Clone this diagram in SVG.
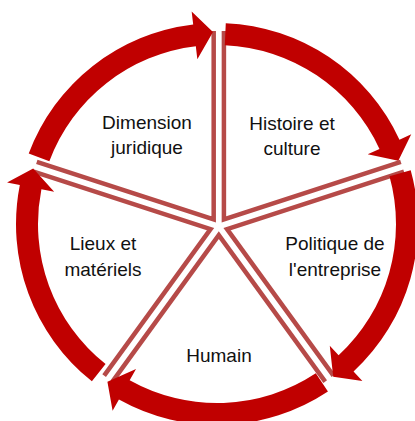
<svg xmlns="http://www.w3.org/2000/svg" width="415" height="421" viewBox="0 0 415 421">
<style>
.w{fill:none;stroke:#B64A48;stroke-width:4.5;stroke-linejoin:miter}
.a{fill:#C00000;stroke:none}
.t{font-family:"Liberation Sans",Arial,sans-serif;font-size:19px;fill:#111;text-anchor:middle}
</style>
<rect width="415" height="421" fill="#fff"/>
<g id="node-histoire">
<path class="w" d="M223.91,30.96 L223.91,219.46 L400.81,161.98"/>
<text class="t" x="292" y="130">Histoire et</text>
<text class="t" x="292" y="155">culture</text>
</g>
<g id="node-politique">
<path class="w" d="M403.97,171.71 L227.07,229.19 L333.46,375.62"/>
<text class="t" x="335" y="250">Politique de</text>
<text class="t" x="335" y="276">l'entreprise</text>
</g>
<g id="node-humain">
<path class="w" d="M325.19,381.63 L218.8,235.2 L112.41,381.63"/>
<text class="t" x="219" y="362">Humain</text>
</g>
<g id="node-lieux">
<path class="w" d="M104.14,375.62 L210.53,229.19 L33.63,171.71"/>
<text class="t" x="103" y="250">Lieux et</text>
<text class="t" x="103" y="276">matériels</text>
</g>
<g id="node-dimension">
<path class="w" d="M36.79,161.98 L213.69,219.46 L213.69,30.96"/>
<text class="t" x="147" y="129">Dimension</text>
<text class="t" x="147" y="154">juridique</text>
</g>
<g id="connectors">
<path class="a" d="M28.73,153.61 A201,201 0 0 1 193.2,24.41 L191.66,11.5 L212.98,32.04 L197.35,59.17 L195.81,46.26 A179,179 0 0 0 49.34,161.31 Z"/>
<path class="a" d="M225.77,23.19 A201,201 0 0 1 399.46,139.69 L411.26,134.24 L398.32,160.86 L367.69,154.37 L379.49,148.92 A179,179 0 0 0 224.81,45.17 Z"/>
<path class="a" d="M410.69,170.28 A201,201 0 0 1 353.55,371.48 L362.38,381.02 L333.22,376.83 L329.77,345.8 L338.6,355.34 A179,179 0 0 0 389.49,176.16 Z"/>
<path class="a" d="M327.94,391.61 A201,201 0 0 1 118.94,399.46 L112.6,410.8 L107.42,381.66 L136.02,368.9 L129.67,380.25 A179,179 0 0 0 315.8,373.27 Z"/>
<path class="a" d="M91.88,381.3 A201,201 0 0 1 19.83,184.96 L7.07,182.43 L33.19,168.51 L54.16,191.76 L41.41,189.23 A179,179 0 0 0 105.57,364.09 Z"/>
</g>
</svg>
